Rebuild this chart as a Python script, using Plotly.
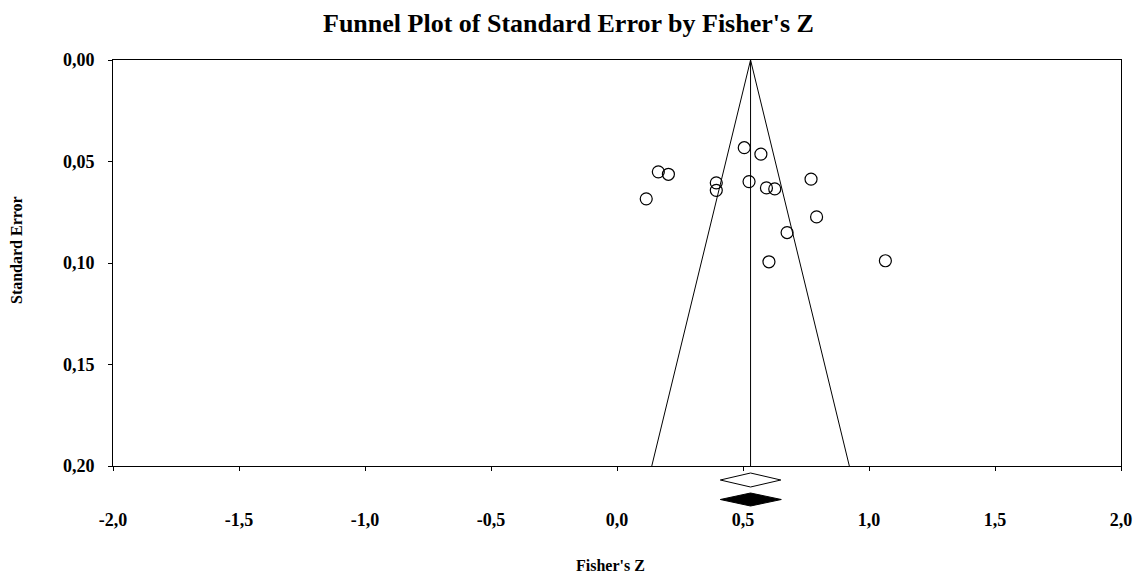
import plotly.graph_objects as go

# Study data (Fisher's Z, Standard Error)
fisher_z = [0.505, 0.571, 0.164, 0.204, 0.394, 0.394, 0.524, 0.593, 0.626,
            0.770, 0.116, 0.792, 0.675, 0.603, 1.065]
std_err = [0.0432, 0.0464, 0.0551, 0.0563, 0.0605, 0.0642, 0.0599, 0.0630,
           0.0635, 0.0587, 0.0684, 0.0773, 0.0850, 0.0994, 0.0989]

# Summary estimates: observed (open diamond) and adjusted (filled diamond)
summary_labels = ["Observed", "Adjusted"]
summary_est = [0.530, 0.530]
summary_lo = [0.410, 0.410]
summary_hi = [0.650, 0.652]

x_ticks = [-2.0, -1.5, -1.0, -0.5, 0.0, 0.5, 1.0, 1.5, 2.0]
x_tick_text = ["-2,0", "-1,5", "-1,0", "-0,5", "0,0", "0,5", "1,0", "1,5", "2,0"]
y_ticks = [0.0, 0.05, 0.10, 0.15, 0.20]
y_tick_text = ["0,00", "0,05", "0,10", "0,15", "0,20"]

se_max = 0.20
z_crit = 1.96
mean_z = summary_est[0]

FONT = "Liberation Serif, Times New Roman, serif"

fig = go.Figure()

# Funnel limits
fig.add_trace(go.Scatter(
    x=[mean_z - z_crit * se_max, mean_z, mean_z + z_crit * se_max],
    y=[se_max, 0.0, se_max],
    mode="lines", line=dict(color="black", width=1),
    hoverinfo="skip", showlegend=False))
# Mean line
fig.add_trace(go.Scatter(
    x=[mean_z, mean_z], y=[0.0, se_max],
    mode="lines", line=dict(color="black", width=1),
    hoverinfo="skip", showlegend=False))
# Studies
fig.add_trace(go.Scatter(
    x=fisher_z, y=std_err, mode="markers",
    marker=dict(symbol="circle-open", size=12, color="black",
                line=dict(color="black", width=1.2)),
    showlegend=False))

# Summary diamonds below the axis (paper y coordinates)
plot_h = 576 - 60 - 110
diamond_specs = [(480, 7, "white"), (499.5, 6.5, "black")]
shapes = []
for (cy, hh, fill), est, lo, hi in zip(diamond_specs, summary_est, summary_lo, summary_hi):
    yc = (466 - cy) / plot_h
    yt = (466 - (cy - hh)) / plot_h
    yb = (466 - (cy + hh)) / plot_h
    path = f"M {lo},{yc} L {est},{yt} L {hi},{yc} L {est},{yb} Z"
    shapes.append(dict(type="path", xref="x", yref="paper", path=path,
                       fillcolor=fill, line=dict(color="black", width=1)))

fig.update_layout(
    width=1137, height=576,
    margin=dict(l=113, r=16, t=60, b=110, autoexpand=False),
    paper_bgcolor="white", plot_bgcolor="white",
    font=dict(family=FONT, color="black"),
    title=dict(text="<b>Funnel Plot of Standard Error by Fisher's Z</b>",
               x=0.5, xref="container", xanchor="center",
               y=1 - 23 / 576, yref="container", yanchor="middle",
               font=dict(family=FONT, size=26, color="black")),
    shapes=shapes,
    showlegend=False,
)

fig.update_xaxes(
    range=[-2.0, 2.0], tickvals=x_ticks,
    ticktext=[f"<b>{t}</b>" for t in x_tick_text],
    ticks="outside", ticklen=4, tickcolor="black", tickwidth=1,
    showline=True, linecolor="black", linewidth=1, mirror=True,
    showgrid=False, zeroline=False, automargin=False,
    ticklabelstandoff=33,
    tickfont=dict(family=FONT, size=18, color="black"))

fig.update_yaxes(
    range=[0.20, 0.0], tickvals=y_ticks,
    ticktext=[f"<b>{t}</b>" for t in y_tick_text],
    ticks="outside", ticklen=4, tickcolor="black", tickwidth=1,
    showline=True, linecolor="black", linewidth=1, mirror=True,
    showgrid=False, zeroline=False, automargin=False,
    ticklabelstandoff=10,
    tickfont=dict(family=FONT, size=18, color="black"))

fig.add_annotation(text="<b>Fisher's Z</b>", xref="paper", yref="paper",
                   x=(610 - 113) / 1008, y=(466 - 565) / plot_h,
                   xanchor="center", yanchor="middle", showarrow=False,
                   font=dict(family=FONT, size=16, color="black"))
fig.add_annotation(text="<b>Standard Error</b>", xref="paper", yref="paper",
                   x=(16 - 113) / 1008, y=(466 - 250) / plot_h,
                   xanchor="center", yanchor="middle", textangle=-90,
                   showarrow=False,
                   font=dict(family=FONT, size=16, color="black"))

fig.write_html("out.html",
               config={"displayModeBar": False},
               post_script="document.body.style.margin='0';"
                           "document.body.style.overflow='hidden';")
